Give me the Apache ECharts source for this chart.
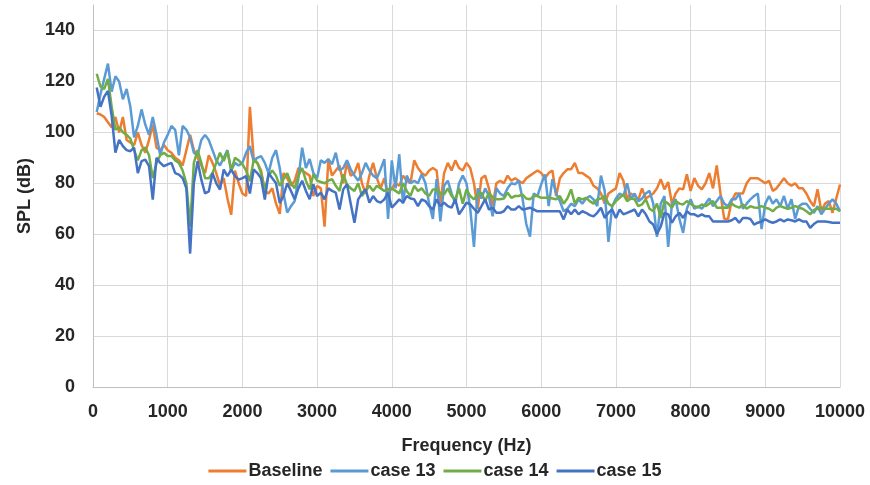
<!DOCTYPE html>
<html>
<head>
<meta charset="utf-8">
<script src="https://cdn.jsdelivr.net/npm/echarts@6/dist/echarts.min.js"></script>
<style>html,body{margin:0;padding:0;background:#fff;}#chart{width:870px;height:485px;}</style>
</head>
<body>
<div id="chart"></div>
<script>
// Frequency grid (Hz): 50 Hz steps up to 10 kHz
const freqHz = Array.from({length: 200}, (_, i) => (i + 1) * 50);

const seriesNames = ['Baseline', 'case 13', 'case 14', 'case 15'];

const baseline = [
 107.5,107,106,104,102,106,100,106,97,96, 95,100,95,92,97,103,94,93,95,93,
 92,90,89,87,93,99,93,90,87,84, 91,88,84,79,82,74,67.6,85,80,76,
 75,110,90,88,85,77,76,78,72,68,
 84,82,79,81,86,85,84,83,75,79, 78,63,89,83,85,87,80,88,83,84,
 88,80,76,83,88,82,78,82,76,78, 80,79,83,81,80,89,86,84,83,85,
 86,85,72,84,88,85,89,86,85,88,
 86,80,70,82,83,78,71,80,81,80, 83,81,82,81,80,82,83,84,85,84,
 82,84,85,75,82,84,85.5,85.5,88,84, 84,83,82,79,78,76,72,76,77,78,
 84,81,74,76,75,73.5,78,74,75,76,
 78,81.6,77.6,80.5,72,76,78,77.6,83.5,77, 82,79,77.6,80,84,78,87,76,66,66,
 73,76,76,76,80,82,82,82,81,80, 81,77,78,80,82,80,79,80,78,78,
 76,73,71,77.6,69,72,73,68.4,74,79.5
];

const case13 = [
 108,115,121,127,116,122,120,113,117,110, 98,102.5,109,103,99,106,99,91,96,99,
 102.5,101,91,102.5,101,98,92,91,97,99, 97,93,89,87,90,93,85,88,87,88,
 92,94.6,88.7,90,90.7,88,84,90,93,86,
 76,68.5,71,73,82,94,86,89.5,84,82, 89,88,89.5,87.5,92,85,86,89,85.5,83,
 81,84,88,85,83,82,85.5,89.5,66,89, 78,91.4,72,83,80,81,80,83.5,80,72,
 66,81.6,65,79,81,76,72,80,83,80,
 70,55,78,74,78,75,67,78,76,75, 78,80,79.6,81,74,64,59,76,75,79.6,
 83.5,71,81.6,76,73,69,70,72,71,73.7, 72,74,75,73.7,71,83,77,57,71,74,
 76,75,80,73.7,76,73,74,76,77,72,
 59,72,75,55,72,73.7,66,60.5,70,73.7, 70,71,70,72,74,71,73,75,72,71,
 73.7,73.7,76,70,72,73.7,75,76,62,72, 75,72,73.7,71,75,70,73.7,66,71,72,
 72,70,68.4,71,67.8,70,72,73.7,72,69
];

const case14 = [
 123,118,117,121,110,101,102,100,99,97.5, 93,89,93,94,91,82,88,91,92,90.7,
 90.7,89,88,85,80,63,88,93,88,82, 82,84,88,92,88.7,92.6,85,90,89,87.5,
 85,80.8,89,88,84,77.5,83,85,83,79,
 81.6,84,80,78,83,86,81,77.6,83.5,81, 80.5,80,81,81.6,79,77,83.5,79.6,78,77,
 80,75,77,79,77,79,78,77,77.6,78, 77,76,80,77,75,79,77,78,76,75,
 77.6,77.6,76,75.6,78,75,73.7,78,72,77.6,
 75,73.7,75.6,76.3,73,76.3,74.5,73.7,73.7,74, 76.3,74.3,75,75,75.6,74,73.7,75,75,74.3,
 74.3,74.3,74,73.7,75,72,74,77.6,72,74.3, 73.7,74.3,73,72,73.7,74,75,72,71,73,
 74.3,75.6,73,74,73.7,71,71.7,73.7,70,69,
 72,66.4,73,72,70.4,73,72,71.7,73,72, 71,70.5,71.7,71,72,73,70.4,70.4,70.5,70.4,
 72,71,70.4,71.7,70,71,70.5,70.4,71,70.4, 70,69,70.4,71,70.5,70,70.4,71,70.4,70,
 69,67.8,69.5,70,70.4,70,70,70,70,69
];

const case15 = [
 117.6,110,114,116.3,106.4,92,97,94.6,93,92.6, 94,84,88.7,89.3,86.7,73.6,90,88,86.7,87.4,
 88,84,83.4,82,78,52.4,80,88.7,81.4,76, 76.8,84,80,77.5,85.4,82.8,85.4,82.8,81.4,82,
 82.8,76,85.4,84,82,73.6,84,82,80,72.2,
 75,80,77,73.7,78,81,77,73.7,79.6,75, 76.3,73.7,78,77,76.3,69.7,77.6,79.6,72,64.5,
 73.7,76,77.6,72.4,75,73,72.4,73.7,76.3,70.4, 72,73.7,72.4,75,74,73.7,71,73.7,73,71,
 69.7,73.7,71,72.4,71,70.4,73.7,67.8,70,72.4,
 71.7,70,68.4,71,73.7,69.7,70.4,68.4,68.4,69, 71,69.7,69.7,71,69.7,70,70.4,69.7,69,69,
 69,69,69,69,69,65.8,69.7,67.8,69.7,67.8, 69,68.4,67.5,67,68.4,70.4,66.4,68.4,69.7,66.4,
 69.7,67.8,68.4,69,69.7,67,69.7,67.8,65,63.8,
 60,63,68.4,67.8,64.5,67,68.4,66.4,69,67.8, 67.8,67,67.8,67,67,65,65,65,65,65,
 65.5,66.4,64.5,66.4,66.4,66,63.8,64.5,65,65.8, 65,64.5,65,65.8,65,65.8,65.5,65,65.8,65,
 65,62.5,64,65,65,65,64.8,64.5,64.5,64.5
];

const colors = ['#ED7D31', '#5B9BD5', '#70AD47', '#4472C4'];
const allValues = [baseline, case13, case14, case15];

const FONT = "'Liberation Sans', Arial, sans-serif";
const textColor = '#262626';

const chart = echarts.init(document.getElementById('chart'), null, {renderer: 'canvas'});
chart.setOption({
  animation: false,
  backgroundColor: '#ffffff',
  color: colors,
  grid: {left: 93, right: 30, top: 5, bottom: 98, containLabel: false},
  legend: {
    bottom: 0,
    left: 'center',
    icon: 'rect',
    itemWidth: 38,
    itemHeight: 3,
    itemGap: 8,
    textStyle: {fontFamily: FONT, fontWeight: 'bold', fontSize: 18, color: textColor, padding: [0, 0, 0, -3]},
    data: seriesNames
  },
  xAxis: {
    type: 'value',
    min: 0, max: 10000, interval: 1000,
    name: 'Frequency (Hz)',
    nameLocation: 'middle',
    nameGap: 50,
    nameTextStyle: {fontFamily: FONT, fontWeight: 'bold', fontSize: 18, color: textColor},
    axisLine: {show: true, onZero: false, lineStyle: {color: '#bfbfbf', width: 1}},
    axisTick: {show: false},
    axisLabel: {fontFamily: FONT, fontWeight: 'bold', fontSize: 18, color: textColor, margin: 16,
      formatter: v => String(v)},
    splitLine: {show: true, lineStyle: {color: '#d9d9d9', width: 1}}
  },
  yAxis: {
    type: 'value',
    min: 0, max: 150, interval: 20,
    name: 'SPL (dB)',
    nameLocation: 'middle',
    nameGap: 58,
    nameRotate: 90,
    nameTextStyle: {fontFamily: FONT, fontWeight: 'bold', fontSize: 18, color: textColor},
    axisLine: {show: true, lineStyle: {color: '#bfbfbf', width: 1}},
    axisTick: {show: false},
    axisLabel: {fontFamily: FONT, fontWeight: 'bold', fontSize: 18, color: textColor, margin: 18, showMaxLabel: false,
      formatter: v => (v % 20 === 0 ? String(v) : '')},
    splitLine: {show: true, showMaxLine: false, lineStyle: {color: '#d9d9d9', width: 1}}
  },
  series: seriesNames.map((name, k) => ({
    name: name,
    type: 'line',
    symbol: 'none',
    smooth: false,
    lineStyle: {width: 2.5, color: colors[k]},
    itemStyle: {color: colors[k]},
    data: freqHz.map((f, i) => [f, allValues[k][i]])
  }))
});
</script>
</body>
</html>
